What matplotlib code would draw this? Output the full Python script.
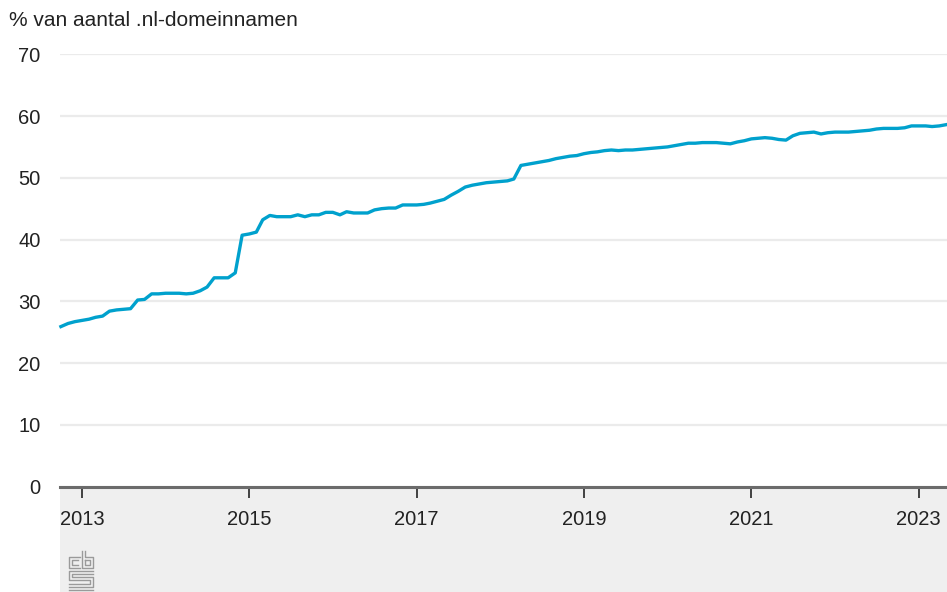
import matplotlib
matplotlib.use("Agg")
import matplotlib.pyplot as plt
from matplotlib.lines import Line2D
import pandas as pd

plt.rcParams['font.family'] = ['Liberation Sans', 'DejaVu Sans']

# Monthly data, Oct 2012 - May 2023
start_month = "2012-10-01"
values = [
    25.9, 26.4, 26.7,
    26.9, 27.1, 27.4, 27.6, 28.4, 28.6, 28.7, 28.8, 30.2, 30.3, 31.2, 31.2,   # 2013
    31.3, 31.3, 31.3, 31.2, 31.3, 31.7, 32.3, 33.8, 33.8, 33.8, 34.6, 40.7,   # 2014
    40.9, 41.2, 43.2, 43.9, 43.7, 43.7, 43.7, 44.0, 43.7, 44.0, 44.0, 44.4,   # 2015
    44.4, 44.0, 44.5, 44.3, 44.3, 44.3, 44.8, 45.0, 45.1, 45.1, 45.6, 45.6,   # 2016
    45.6, 45.7, 45.9, 46.2, 46.5, 47.2, 47.8, 48.5, 48.8, 49.0, 49.2, 49.3,   # 2017
    49.4, 49.5, 49.8, 52.0, 52.2, 52.4, 52.6, 52.8, 53.1, 53.3, 53.5, 53.6,   # 2018
    53.9, 54.1, 54.2, 54.4, 54.5, 54.4, 54.5, 54.5, 54.6, 54.7, 54.8, 54.9,   # 2019
    55.0, 55.2, 55.4, 55.6, 55.6, 55.7, 55.7, 55.7, 55.6, 55.5, 55.8, 56.0,   # 2020
    56.3, 56.4, 56.5, 56.4, 56.2, 56.1, 56.8, 57.2, 57.3, 57.4, 57.1, 57.3,   # 2021
    57.4, 57.4, 57.4, 57.5, 57.6, 57.7, 57.9, 58.0, 58.0, 58.0, 58.1, 58.4,   # 2022
    58.4, 58.4, 58.3, 58.4, 58.6,                                             # 2023
]
dates = pd.date_range(start_month, periods=len(values), freq="MS")
y_ticks = [0, 10, 20, 30, 40, 50, 60, 70]
x_tick_years = [2013, 2015, 2017, 2019, 2021, 2023]
ylabel_text = "% van aantal .nl-domeinnamen"

W, H = 947, 592
fig = plt.figure(figsize=(W / 100, H / 100), dpi=100)

def fx(px):
    return px / W

def fy(py):
    return 1 - py / H

ax_left, ax_right, ax_top, ax_bottom = 60, 947, 54.3, 486.5

# gray band under the axis (drawn first, behind everything)
band = fig.add_axes([fx(ax_left), 0, fx(ax_right - ax_left), fy(ax_bottom)], zorder=-5)
band.set_facecolor("#efefef")
band.set_xticks([]); band.set_yticks([])
for s in band.spines.values():
    s.set_visible(False)

ax = fig.add_axes([fx(ax_left), fy(ax_bottom), fx(ax_right - ax_left), (ax_bottom - ax_top) / H], zorder=1)

ax.plot(dates, values, color="#00a1cd", lw=2.4, solid_joinstyle="round", zorder=3, clip_on=False)

ax.set_ylim(0, 70)
ax.set_yticks(y_ticks)
ax.set_xlim(pd.Timestamp("2012-09-27"), pd.Timestamp("2023-05-05"))
ax.set_xticks([pd.Timestamp(f"{y}-01-01") for y in x_tick_years])
ax.set_xticklabels([str(y) for y in x_tick_years])

ax.grid(axis="y", color="#ebebeb", lw=1.6, zorder=1)
ax.set_axisbelow(True)
for s in ["top", "right", "left"]:
    ax.spines[s].set_visible(False)
ax.spines["bottom"].set_color("#6b6b6b")
ax.spines["bottom"].set_linewidth(2.2)
ax.spines["bottom"].set_zorder(4)
ax.patch.set_alpha(0)

ax.tick_params(axis="y", length=0, pad=14, labelsize=14.5, labelcolor="#222222")
ax.tick_params(axis="x", direction="out", length=8, width=1.3, color="#333333",
               pad=9, labelsize=14.5, labelcolor="#222222")

fig.text(fx(9), fy(20), ylabel_text, fontsize=15, color="#222222", va="center", ha="left")

# CBS logo (approximate)
logo_col = "#9a9a9a"
segs = [
    # "c"
    [(80, 557), (69, 557), (69, 568), (80, 568)],
    [(78, 560), (72, 560), (72, 565), (78, 565)],
    # "b"
    [(82, 551), (82, 568), (93, 568), (93, 557), (85, 557), (85, 551)],
    [(85, 560), (90, 560), (90, 565), (85, 565), (85, 560)],
    # "s"
    [(93, 571), (69, 571), (69, 580), (90, 580), (90, 584), (69, 584)],
    [(93, 574), (72, 574), (72, 577), (93, 577), (93, 587), (69, 587)],
    [(69, 590), (93, 590)],
]
for seg in segs:
    xs = [fx(p[0]) for p in seg]
    ys = [fy(p[1]) for p in seg]
    fig.lines.append(Line2D(xs, ys, transform=fig.transFigure, color=logo_col, lw=1.0, zorder=2))

fig.savefig("out.png", dpi=100)
